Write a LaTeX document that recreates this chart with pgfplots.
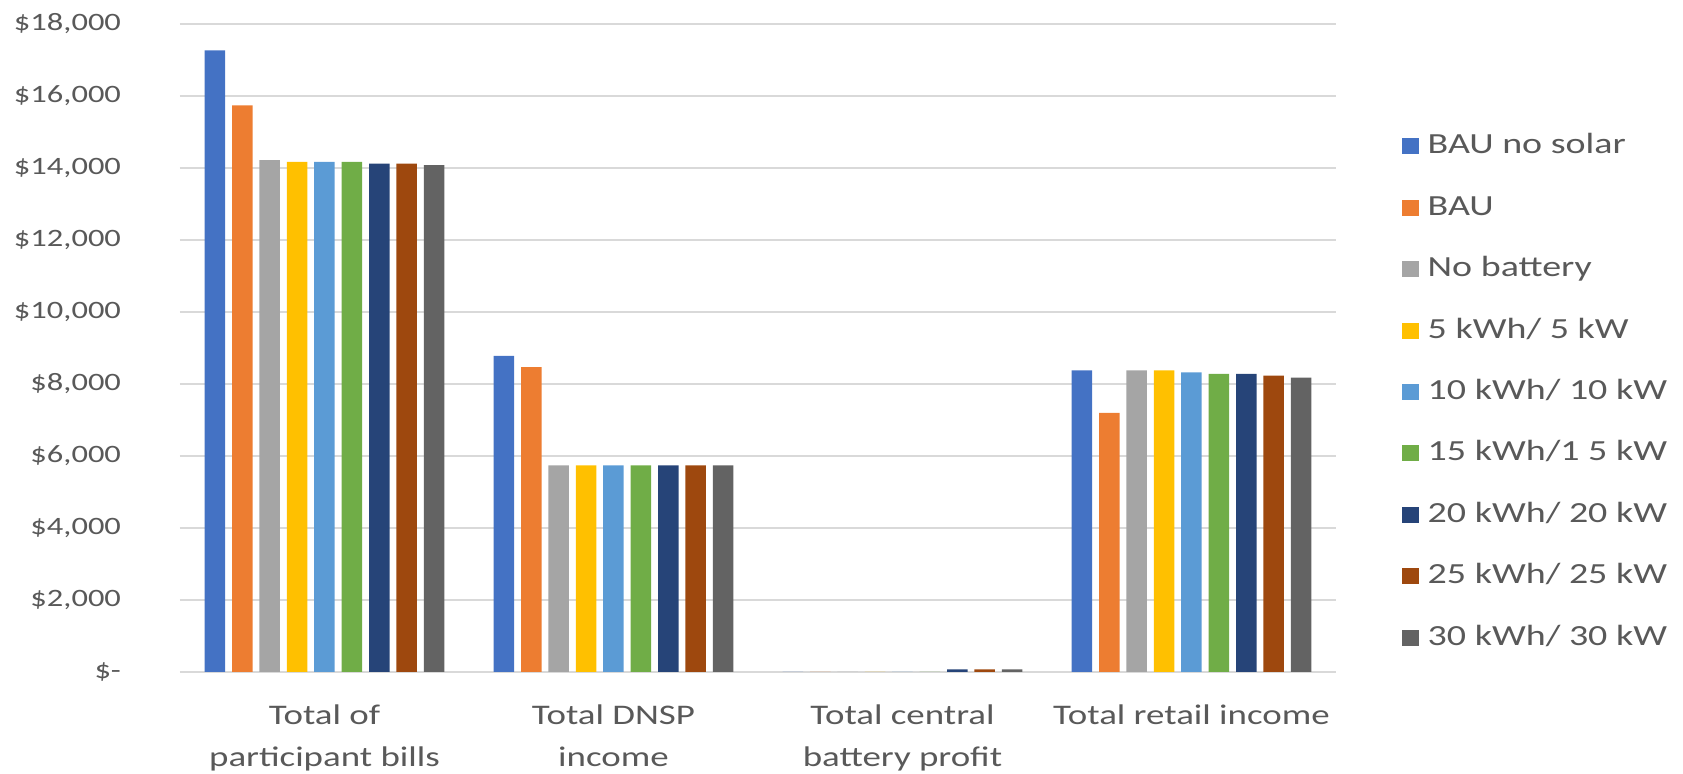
\documentclass[border=0pt]{standalone}
\usepackage{fontspec}
\setmainfont[FakeStretch=1.3]{Carlito}
\usepackage{pgfplots}
\usepackage{pgfplotstable}
\pgfplotsset{compat=1.18}
\definecolor{c1}{HTML}{4472C4}
\definecolor{c2}{HTML}{ED7D31}
\definecolor{c3}{HTML}{A5A5A5}
\definecolor{c4}{HTML}{FFC000}
\definecolor{c5}{HTML}{5B9BD5}
\definecolor{c6}{HTML}{70AD47}
\definecolor{c7}{HTML}{264478}
\definecolor{c8}{HTML}{9E480E}
\definecolor{c9}{HTML}{636363}
\definecolor{txt}{HTML}{595959}
\definecolor{gridc}{HTML}{D9D9D9}
\pgfplotstableread{
x s1 s2 s3 s4 s5 s6 s7 s8 s9
0 17270 15740 14220 14170 14170 14170 14120 14120 14080
1 8780 8470 5740 5740 5740 5740 5740 5740 5740
2 0 0 0 0 0 0 70 70 70
3 8380 7200 8380 8380 8320 8280 8280 8230 8180
}\data
\begin{document}
\begin{tikzpicture}
\path[use as bounding box] (-90pt,-51pt) rectangle (751.5pt,336pt);
\begin{axis}[
  at={(0,0)}, anchor=south west,
  scale only axis, width=578pt, height=324pt,
  ymin=0, ymax=18000, xmin=-0.5, xmax=3.5,
  scaled y ticks=false,
  ybar=3.45pt, bar width=10.25pt,
  xtick={0,1,2,3},
  xticklabels={{Total of\\participant bills},{Total DNSP\\income},{Total central\\battery profit},{Total retail income}},
  ytick={0,2000,4000,6000,8000,10000,12000,14000,16000,18000},
  yticklabels={{\$-},{\$2,000},{\$4,000},{\$6,000},{\$8,000},{\$10,000},{\$12,000},{\$14,000},{\$16,000},{\$18,000}},
  ymajorgrids, grid style={gridc, line width=0.75pt},
  axis x line*=bottom, axis y line*=left,
  y axis line style={draw=none},
  x axis line style={-, gridc, line width=1pt},
  major tick length=0pt,
  tick label style={text=txt},
  yticklabel style={font=\fontsize{12.5}{15}\selectfont, xshift=-26pt},
  xticklabel style={align=center, font=\fontsize{14.2}{21}\selectfont, yshift=-12.8pt},
  every axis plot post/.append style={legend image code/.code={\fill[##1] (0pt,-4pt) rectangle (8.5pt,4pt);}},
  legend style={at={(1.0565,0.834)}, anchor=north west, draw=none, fill=none,
    inner sep=0pt, row sep=16.2pt, font=\fontsize{14.6}{18}\selectfont, text=txt,
    nodes={inner sep=0pt, text height=11pt, text depth=3.5pt},
    /tikz/every odd column/.append style={column sep=4.5pt}},
  legend cell align=left,
]
\addplot[fill=c1, draw=none] table[x=x, y=s1] {\data};
\addplot[fill=c2, draw=none] table[x=x, y=s2] {\data};
\addplot[fill=c3, draw=none] table[x=x, y=s3] {\data};
\addplot[fill=c4, draw=none] table[x=x, y=s4] {\data};
\addplot[fill=c5, draw=none] table[x=x, y=s5] {\data};
\addplot[fill=c6, draw=none] table[x=x, y=s6] {\data};
\addplot[fill=c7, draw=none] table[x=x, y=s7] {\data};
\addplot[fill=c8, draw=none] table[x=x, y=s8] {\data};
\addplot[fill=c9, draw=none] table[x=x, y=s9] {\data};
\legend{BAU no solar, BAU, No battery, 5 kWh/ 5 kW, 10 kWh/ 10 kW, 15 kWh/1 5 kW, 20 kWh/ 20 kW, 25 kWh/ 25 kW, 30 kWh/ 30 kW}
\end{axis}
\end{tikzpicture}
\end{document}
